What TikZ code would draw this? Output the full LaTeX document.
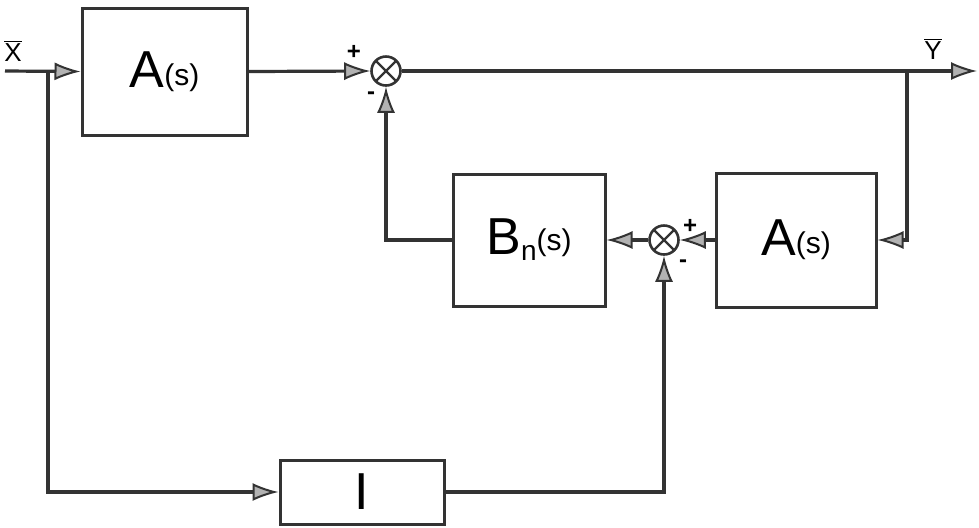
\documentclass[tikz,border=0pt]{standalone}
\usepackage{fontspec}
\setmainfont{Liberation Sans}
\usetikzlibrary{arrows.meta, positioning}

\begin{document}
\begin{tikzpicture}[
  x=0.5pt, y=-0.5pt,
  block/.style={rectangle,draw=black!80,line width=1.5pt,inner sep=0pt,font=\fontsize{26}{28}\selectfont},
  sumj/.style={circle,draw=black!80,line width=1.3pt,minimum size=14.5pt,inner sep=0pt,
    path picture={\draw[line width=1.2pt,black!80] (path picture bounding box.north west) -- (path picture bounding box.south east)
      (path picture bounding box.north east) -- (path picture bounding box.south west);}},
  sig/.style={-{Latex[length=13pt,width=9pt,fill=gray!60,line width=1pt]},line width=1.6pt,draw=black!80},
  sgn/.style={font=\bfseries\fontsize{12}{12}\selectfont,inner sep=0pt},
  lbl/.style={font=\fontsize{13}{14}\selectfont,inner sep=0pt}
]
  \useasboundingbox (0,0) rectangle (979,527);
  % blocks
  \node[block,minimum width=82.5pt,minimum height=63.5pt](a1) at (164.5,71.5) {A\raisebox{1pt}{\fontsize{15}{16}\selectfont(s)}};
  \node[block,minimum width=76pt,minimum height=66pt](bn) at (529,240) {B\raisebox{-3pt}{\fontsize{14}{14}\selectfont n}\raisebox{2pt}{\fontsize{15}{16}\selectfont(s)}};
  \node[block,minimum width=80pt,minimum height=67pt](a2) at (796,240) {A\raisebox{1pt}{\fontsize{15}{16}\selectfont(s)}};
  \node[block,minimum width=82pt,minimum height=32pt](one) at (362,492) {I};
  % summing junctions
  \node[sumj](s1) at (386,71) {};
  \node[sumj](s2) at (664,240) {};
  \node[sgn] at (354,52) {+};
  \node[sgn] at (371,96) {-};
  \node[sgn] at (690,226) {+};
  \node[sgn] at (683,264) {-};
  % ends and branch points
  \coordinate (xin) at (5,71);
  \coordinate (xbr) at (48,71);
  \coordinate (yout) at (977,71);
  \coordinate (ybr) at (907,71);
  \node[lbl](xl) at (13,51) {$\overline{\mbox{X}}$};
  \node[lbl](yl) at (933,49) {$\overline{\mbox{Y}}$};
  % signals
  \draw[sig](xin) -- (a1.west);
  \draw[sig](a1.east) -- (s1.west);
  \draw[sig](s1.east) -- (yout);
  \draw[sig](ybr) |- (a2.east);
  \draw[sig](a2.west) -- (s2.east);
  \draw[sig](s2.west) -- (bn.east);
  \draw[sig](bn.west) -| (s1.south);
  \draw[sig](xbr) |- (one.west);
  \draw[sig](one.east) -| (s2.south);
\end{tikzpicture}
\end{document}
